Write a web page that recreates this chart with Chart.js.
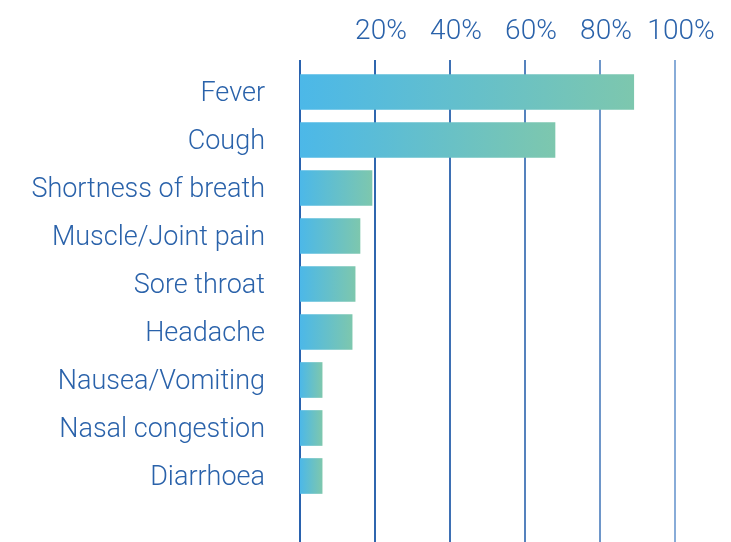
<!DOCTYPE html>
<html>
<head>
<meta charset="utf-8">
<script src="https://cdn.jsdelivr.net/npm/chart.js@4/dist/chart.umd.min.js"></script>
<style>
  html, body { margin: 0; padding: 0; background: #fff; }
  #wrap { width: 731px; height: 542px; }
</style>
</head>
<body>
<div id="wrap"><canvas id="symptoms"></canvas></div>
<script>
// symptoms and share of patients (%)
var symptoms = ['Fever', 'Cough', 'Shortness of breath', 'Muscle/Joint pain',
    'Sore throat', 'Headache', 'Nausea/Vomiting', 'Nasal congestion', 'Diarrhoea'];
var percents = [89, 68, 19.2, 16, 14.7, 13.9, 5.9, 5.9, 5.9];
var tickValues = [0, 20, 40, 60, 80, 100];

var textColor = '#2a62aa';
var gridColors = ['#2a62ae', '#2f66ae', '#3e70b4', '#5582bd', '#6e96c9', '#88acd8'];

function barGradient(context) {
    var chart = context.chart;
    if (!chart.chartArea) return '#5bbcd8';
    var x = chart.scales.x;
    var x0 = x.getPixelForValue(0);
    var x1 = x.getPixelForValue(context.raw);
    var g = chart.ctx.createLinearGradient(x0, 0, x1, 0);
    g.addColorStop(0, '#4cb8e8');
    g.addColorStop(1, '#7dc7ae');
    return g;
}

// vertical lines that run from under the labels down to the page bottom
var longGrid = {
    id: 'longGrid',
    beforeDatasetsDraw: function (chart) {
        var ctx = chart.ctx;
        var x = chart.scales.x;
        ctx.save();
        ctx.lineWidth = 2;
        for (var i = 0; i < tickValues.length; i++) {
            var px = Math.round(x.getPixelForValue(tickValues[i]));
            ctx.strokeStyle = gridColors[i];
            ctx.beginPath();
            ctx.moveTo(px, 60);
            ctx.lineTo(px, chart.height);
            ctx.stroke();
        }
        ctx.restore();
    }
};

new Chart(document.getElementById('symptoms'), {
    type: 'bar',
    data: {
        labels: symptoms,
        datasets: [{
            data: percents,
            backgroundColor: barGradient,
            barThickness: 35,
            borderWidth: 0
        }]
    },
    options: {
        indexAxis: 'y',
        responsive: true,
        maintainAspectRatio: false,
        animation: false,
        layout: { padding: { left: 0, right: 56, top: 0, bottom: 42 } },
        plugins: {
            legend: { display: false },
            tooltip: { enabled: false }
        },
        scales: {
            x: {
                position: 'top',
                min: 0,
                max: 100,
                afterBuildTicks: function (scale) {
                    scale.ticks = tickValues.map(function (v) { return { value: v }; });
                },
                afterFit: function (scale) { scale.height = 68; },
                grid: { display: false },
                border: { display: false },
                ticks: {
                    color: textColor,
                    font: { family: 'Roboto', weight: '300', size: 28 },
                    padding: 11,
                    labelOffset: 6,
                    maxRotation: 0,
                    callback: function (v) { return v === 0 ? '' : v + '%'; }
                }
            },
            y: {
                afterFit: function (scale) {
                    scale.width = 300;
                    scale.paddingTop = 0;
                    scale.paddingBottom = 0;
                },
                grid: { display: false, drawTicks: false },
                border: { display: false },
                ticks: {
                    color: textColor,
                    font: { family: 'Roboto', weight: '300', size: 27 },
                    padding: 35,
                    labelOffset: 2
                }
            }
        }
    },
    plugins: [longGrid]
});
</script>
</body>
</html>
